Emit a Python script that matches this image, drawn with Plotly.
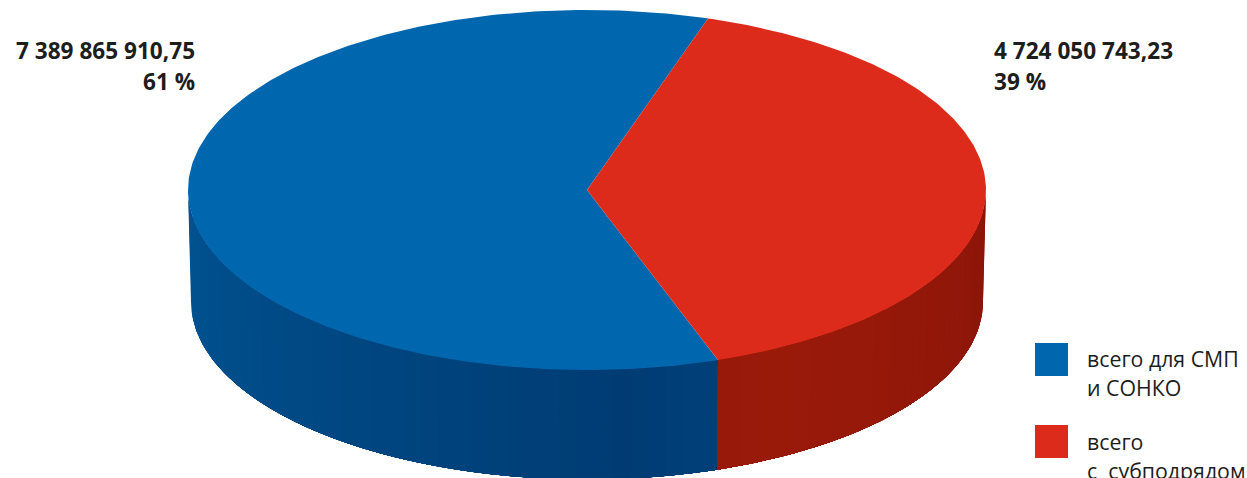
import numpy as np
import plotly.graph_objects as go

categories = ["всего для СМП", "всего с субподрядом"]
values = [7389865910.75, 4724050743.23]
value_labels = ["7 389 865 910,75", "4 724 050 743,23"]
percent_labels = ["61 %", "39 %"]
legend_lines = [["всего для СМП", "и СОНКО"], ["всего", "с\u00a0\u00a0субподрядом"]]

TOP = "#0066AE", "#DC2B1A"
SIDE_START = (0, 0x3C, 0x74), (0x9A, 0x1A, 0x0A)   # colour at the front of the wall
SIDE_END = (0, 0x52, 0x90), (0x8B, 0x15, 0x08)     # colour at the outer edge

W, H = 1247, 478
CX, CY, RX, RY = 587, 190, 399, 180
BCX, BCY, BRX, BRY = 587, 301.5, 396, 178
ROTATION = 19.0   # first slice boundary, degrees clockwise from the back
WARP = 2.2        # view distortion of the tilted disc


def warp(deg):
    return deg - WARP * np.sin(np.radians(2 * deg))


def rim(deg, cx, cy, rx, ry):
    t = np.radians(warp(np.asarray(deg, dtype=float)))
    return cx + rx * np.sin(t), cy - ry * np.cos(t)


share_red = values[1] / sum(values)
red_a = ROTATION
red_b = ROTATION + 360 * share_red
arcs = [np.linspace(red_b, red_a + 360, 300), np.linspace(red_a, red_b, 200)]

fig = go.Figure()


def poly(x, y, color):
    fig.add_trace(go.Scatter(
        x=list(x), y=list(y), mode="lines", fill="toself", fillcolor=color,
        line=dict(color=color, width=0), hoverinfo="skip", showlegend=False))


# walls: only the front half of the disc is visible. Each band is painted from its
# own edge to the far end of the wall, the next band on top, so no seams appear.
for i, arc in enumerate(arcs):
    lo, hi = max(arc[0], 90), min(arc[-1], 270)
    edges = np.linspace(lo, hi, 41)
    order = range(40) if i == 1 else range(39, -1, -1)
    for k in order:
        a, b = edges[k], edges[k + 1]
        mid = (a + b) / 2
        f = min(abs(mid - 175) / 90, 1) if i == 0 else min(abs(mid - 150) / 60, 1)
        col = [round(s + (e - s) * f) for s, e in zip(SIDE_START[i], SIDE_END[i])]
        seg = np.linspace(a, hi, 60) if i == 1 else np.linspace(lo, b, 120)
        tx, ty = rim(seg, CX, CY, RX, RY)
        bx, by = rim(seg[::-1], BCX, BCY, BRX, BRY)
        poly(np.r_[tx, bx], np.r_[ty, by], f"rgb({col[0]},{col[1]},{col[2]})")

# top face
for i, arc in enumerate(arcs):
    x, y = rim(arc, CX, CY, RX, RY)
    poly(np.r_[CX, x, CX], np.r_[CY, y, CY], TOP[i])

# legend swatches
for i, yy in enumerate((359.5, 441.5)):
    fig.add_trace(go.Scatter(
        x=[1051.5], y=[yy], mode="markers", showlegend=False, hoverinfo="skip",
        marker=dict(symbol="square", size=33, color=TOP[i], line=dict(width=0))))

ann = []


def text(x, y, s, anchor, size, bold=False):
    ann.append(dict(
        x=x, y=y, xref="x", yref="y", text=f"<b>{s}</b>" if bold else s,
        showarrow=False, xanchor=anchor, yanchor="middle", align=anchor,
        xshift=0, font=dict(family="Open Sans", size=size, color="#1d1d1b")))


text(197, 50.5, value_labels[0], "right", 22.6, True)
text(197, 81.5, percent_labels[0], "right", 22.6, True)
text(992, 50.5, value_labels[1], "left", 22.6, True)
text(992, 81.5, percent_labels[1], "left", 22.6, True)
for lines, ys in zip(legend_lines, ((358, 387), (441, 470))):
    for s, yy in zip(lines, ys):
        text(1085, yy, s, "left", 21.3)

fig.update_layout(
    width=W, height=H, margin=dict(l=0, r=0, t=0, b=0),
    paper_bgcolor="white", plot_bgcolor="white", showlegend=False,
    annotations=ann,
    xaxis=dict(range=[0, W], visible=False, fixedrange=True),
    yaxis=dict(range=[H, 0], visible=False, fixedrange=True),
)
fig.write_html(
    "out.html", config={"displayModeBar": False},
    post_script="document.body.style.margin='0';document.body.style.overflow='hidden';")
